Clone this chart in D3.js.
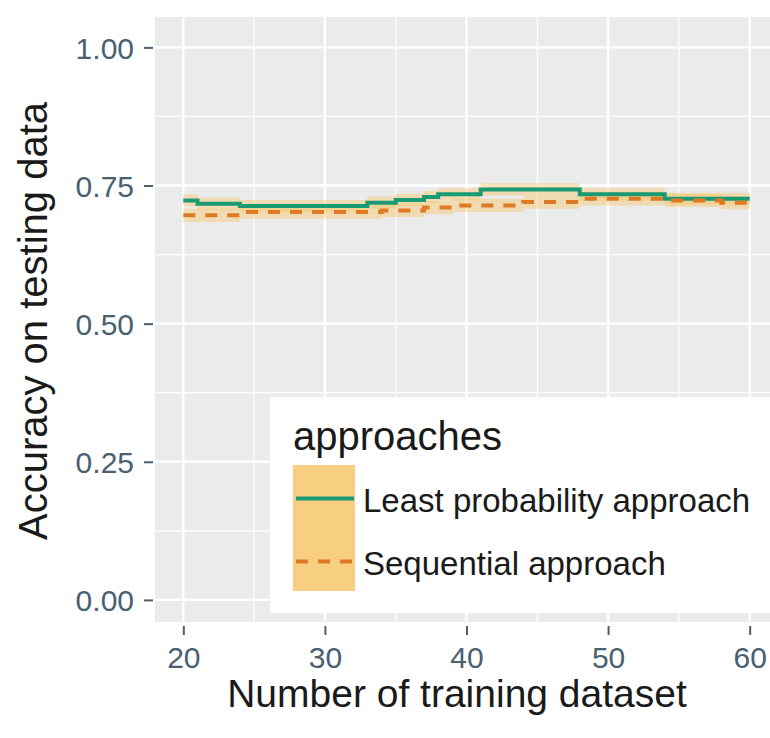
<!DOCTYPE html>
<html>
<head>
<meta charset="utf-8">
<script src="https://cdn.jsdelivr.net/npm/d3@7"></script>
<style>
  html, body { margin: 0; padding: 0; background: #ffffff; }
  svg { display: block; }
  text { font-family: "Liberation Sans", Arial, sans-serif; }
</style>
</head>
<body>
<svg id="chart" width="770" height="738"></svg>
<script>
// Accuracy (step values) for each approach, by number of training samples
const lpX    = [20, 21, 24, 33, 35, 37, 38, 41, 48, 54, 60];
const lpAcc  = [0.723, 0.717, 0.713, 0.719, 0.724, 0.729, 0.734, 0.743, 0.734, 0.726, 0.726];
const lpLow  = [0.712, 0.706, 0.702, 0.708, 0.713, 0.718, 0.723, 0.732, 0.723, 0.715, 0.715];
const lpHigh = [0.734, 0.728, 0.724, 0.730, 0.735, 0.740, 0.745, 0.754, 0.745, 0.737, 0.737];

const seqX    = [20, 24, 34, 37, 39, 44, 48, 54, 58, 60];
const seqAcc  = [0.696, 0.702, 0.705, 0.710, 0.714, 0.720, 0.726, 0.723, 0.719, 0.719];
const seqLow  = [0.684, 0.690, 0.693, 0.698, 0.702, 0.708, 0.714, 0.711, 0.707, 0.707];
const seqHigh = [0.708, 0.714, 0.717, 0.722, 0.726, 0.732, 0.738, 0.735, 0.731, 0.731];

const seriesNames = ["Least probability approach", "Sequential approach"];
const xTicks = [20, 30, 40, 50, 60];
const xMinor = [25, 35, 45, 55];
const yTicks = [0, 0.25, 0.5, 0.75, 1];
const yMinor = [0.125, 0.375, 0.625, 0.875];
const xTitle = "Number of training dataset";
const yTitle = "Accuracy on testing data";
const legendTitle = "approaches";

const svg = d3.select("#chart");
const panel = { left: 155, right: 778, top: 17, bottom: 622 };

const x = d3.scaleLinear().domain([18, 62]).range([panel.left, panel.right]);
const y = d3.scaleLinear().domain([-0.04, 1.055]).range([panel.bottom, panel.top]);

const tickColor = "#48606f";
const colors = ["#1a9a72", "#de7a24"];
const ribbonFill = "#f7c66a";

// panel background and grid
svg.append("rect")
  .attr("x", panel.left).attr("y", panel.top)
  .attr("width", panel.right - panel.left).attr("height", panel.bottom - panel.top)
  .attr("fill", "#ebebeb");

const grid = svg.append("g");
grid.selectAll(".ymin").data(yMinor).join("line")
  .attr("x1", panel.left).attr("x2", panel.right)
  .attr("y1", d => y(d)).attr("y2", d => y(d))
  .attr("stroke", "#fff").attr("stroke-width", 1.2);
grid.selectAll(".xmin").data(xMinor).join("line")
  .attr("y1", panel.top).attr("y2", panel.bottom)
  .attr("x1", d => x(d)).attr("x2", d => x(d))
  .attr("stroke", "#fff").attr("stroke-width", 1.2);
grid.selectAll(".ymaj").data(yTicks).join("line")
  .attr("x1", panel.left).attr("x2", panel.right)
  .attr("y1", d => y(d)).attr("y2", d => y(d))
  .attr("stroke", "#fff").attr("stroke-width", 2.4);
grid.selectAll(".xmaj").data(xTicks).join("line")
  .attr("y1", panel.top).attr("y2", panel.bottom)
  .attr("x1", d => x(d)).attr("x2", d => x(d))
  .attr("stroke", "#fff").attr("stroke-width", 2.4);

// series data
const series = [
  { name: seriesNames[0], pts: lpX.map((v, i) => ({ x: v, y: lpAcc[i], lo: lpLow[i], hi: lpHigh[i] })), color: colors[0], dash: null },
  { name: seriesNames[1], pts: seqX.map((v, i) => ({ x: v, y: seqAcc[i], lo: seqLow[i], hi: seqHigh[i] })), color: colors[1], dash: "12,10" }
];

const area = d3.area().curve(d3.curveStepAfter)
  .x(d => x(d.x)).y0(d => y(d.lo)).y1(d => y(d.hi));
const line = d3.line().curve(d3.curveStepAfter)
  .x(d => x(d.x)).y(d => y(d.y));

svg.append("g").selectAll("path").data(series).join("path")
  .attr("d", d => area(d.pts))
  .attr("fill", ribbonFill).attr("fill-opacity", 0.45);

svg.append("g").selectAll("path").data(series).join("path")
  .attr("d", d => line(d.pts))
  .attr("fill", "none")
  .attr("stroke", d => d.color)
  .attr("stroke-width", 4)
  .attr("stroke-dasharray", d => d.dash);

// axes
const yAxis = svg.append("g")
  .attr("transform", `translate(${panel.left - 2},0)`)
  .call(d3.axisLeft(y).tickValues(yTicks).tickFormat(d3.format(".2f")).tickSize(9).tickPadding(10));
const xAxis = svg.append("g")
  .attr("transform", `translate(0,${panel.bottom + 4})`)
  .call(d3.axisBottom(x).tickValues(xTicks).tickFormat(d3.format("d")).tickSize(9).tickPadding(13));

[yAxis, xAxis].forEach(ax => {
  ax.select(".domain").remove();
  ax.selectAll(".tick line").attr("stroke", tickColor).attr("stroke-width", 2);
  ax.selectAll(".tick text")
    .attr("fill", tickColor)
    .style("font-family", "'Liberation Sans', Arial, sans-serif")
    .style("font-size", "30px");
});
yAxis.selectAll(".tick text").attr("dy", "0.36em");
xAxis.selectAll(".tick text").attr("dy", "0.68em");

// axis titles
svg.append("text")
  .attr("x", 457).attr("y", 707)
  .attr("text-anchor", "middle")
  .attr("fill", "#1a1a1a")
  .style("font-size", "39px")
  .text(xTitle);
svg.append("text")
  .attr("transform", "translate(47,321) rotate(-90)")
  .attr("text-anchor", "middle")
  .attr("fill", "#1a1a1a")
  .style("font-size", "40px")
  .text(yTitle);

// legend
const lg = svg.append("g");
lg.append("rect")
  .attr("x", 270).attr("y", 397).attr("width", 520).attr("height", 216)
  .attr("fill", "#ffffff");
lg.append("text")
  .attr("x", 293).attr("y", 450)
  .attr("fill", "#1a1a1a")
  .style("font-size", "40px")
  .text(legendTitle);

const keyH = 63, keyTop = 465;
series.forEach((s, i) => {
  const ky = keyTop + i * keyH;
  lg.append("rect")
    .attr("x", 293).attr("y", ky).attr("width", 62).attr("height", keyH)
    .attr("fill", ribbonFill).attr("fill-opacity", 0.85);
  lg.append("line")
    .attr("x1", 296).attr("x2", 354)
    .attr("y1", ky + keyH / 2 + 2).attr("y2", ky + keyH / 2 + 2)
    .attr("stroke", s.color).attr("stroke-width", 4)
    .attr("stroke-dasharray", s.dash);
  lg.append("text")
    .attr("x", 363).attr("y", ky + keyH / 2 + 15)
    .attr("fill", "#1a1a1a")
    .style("font-size", "33px")
    .text(s.name);
});
</script>
</body>
</html>
